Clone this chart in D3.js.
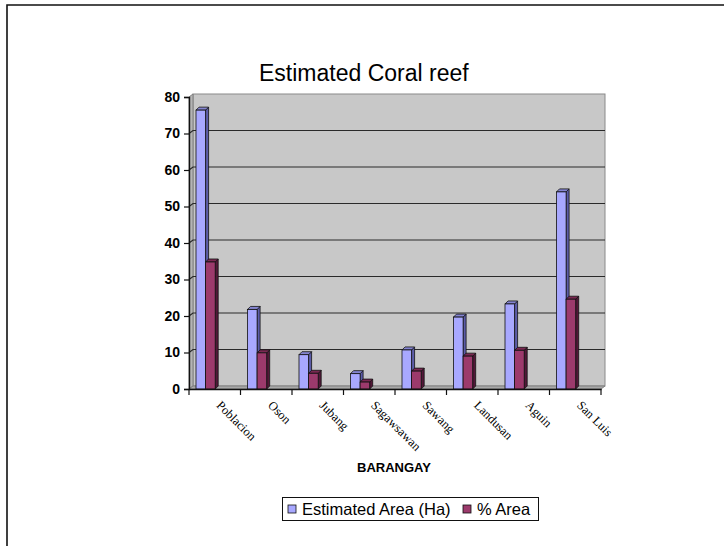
<!DOCTYPE html>
<html>
<head>
<meta charset="utf-8">
<script src="https://cdn.jsdelivr.net/npm/d3@7"></script>
<style>
  html, body { margin: 0; padding: 0; background: #fff; }
  svg { display: block; }
</style>
</head>
<body>
<svg id="chart" width="724" height="546"></svg>
<script>
// Barangay names along the horizontal axis
const barangays = ["Poblacion", "Oson", "Jubang", "Sagawsawan", "Sawang", "Landusan", "Aguin", "San Luis"];
// Estimated coral reef area per barangay, in hectares
const areaHa = [76.4, 21.8, 9.4, 4.2, 10.7, 19.7, 23.3, 54.0];
// Share of the total reef area, in percent
const areaPct = [34.8, 9.9, 4.3, 1.9, 4.9, 9.0, 10.6, 24.6];
// Value axis ticks
const yTicks = [0, 10, 20, 30, 40, 50, 60, 70, 80];
const seriesNames = ["Estimated Area (Ha)", "% Area"];

const svg = d3.select("#chart");

// outer frame (top and left edges only)
svg.append("path")
  .attr("d", "M7,546 V5 H724")
  .attr("fill", "none")
  .attr("stroke", "#111")
  .attr("stroke-width", 1.6);

const plot = { left: 189, right: 601, top: 97, bottom: 389 };
const depth = { dx: 4, dy: 3 };     // wall depth of the 3-D box
const barDepth = { dx: 3, dy: 3 };  // depth of each column

const x = d3.scaleBand().domain(barangays).range([plot.left, plot.right]);
const y = d3.scaleLinear().domain([0, 80]).range([plot.bottom, plot.top]);

// back wall
svg.append("rect")
  .attr("x", plot.left + depth.dx)
  .attr("y", y(80) - depth.dy)
  .attr("width", plot.right - plot.left)
  .attr("height", y(0) - y(80))
  .attr("fill", "#c8c8c8")
  .attr("stroke", "#8a8a8a")
  .attr("stroke-width", 1);

// left side wall
svg.append("path")
  .attr("d", `M${plot.left},${y(0)} L${plot.left + depth.dx},${y(0) - depth.dy} L${plot.left + depth.dx},${y(80) - depth.dy} L${plot.left},${y(80)} Z`)
  .attr("fill", "#b4b4b4")
  .attr("stroke", "#808080")
  .attr("stroke-width", 1);

// floor
svg.append("path")
  .attr("d", `M${plot.left},${y(0)} L${plot.right},${y(0)} L${plot.right + depth.dx},${y(0) - depth.dy} L${plot.left + depth.dx},${y(0) - depth.dy} Z`)
  .attr("fill", "#a8a8a8")
  .attr("stroke", "#808080")
  .attr("stroke-width", 1);

// gridlines on the side wall and back wall
const grid = svg.append("g");
yTicks.filter(t => t > 0 && t < 80).forEach(t => {
  grid.append("path")
    .attr("d", `M${plot.left},${y(t)} L${plot.left + depth.dx},${y(t) - depth.dy} H${plot.right + depth.dx}`)
    .attr("fill", "none")
    .attr("stroke", "#2a2a2a")
    .attr("stroke-width", 1.2);
});

// columns
const colors = [
  { front: "#a8a8ff", top: "#8484d0", side: "#5c5ca8" },
  { front: "#9c3a6c", top: "#7a2852", side: "#521838" }
];
const barW = 9.6;
const barOffset = 7;

function drawColumn(g, x0, v, c) {
  const x1 = x0 + barW, yt = y(v), yb = y(0);
  const dx = barDepth.dx, dy = barDepth.dy;
  g.append("path")
    .attr("d", `M${x1},${yb} L${x1 + dx},${yb - dy} L${x1 + dx},${yt - dy} L${x1},${yt} Z`)
    .attr("fill", c.side).attr("stroke", "#111").attr("stroke-width", 0.8);
  g.append("path")
    .attr("d", `M${x0},${yt} L${x0 + dx},${yt - dy} L${x1 + dx},${yt - dy} L${x1},${yt} Z`)
    .attr("fill", c.top).attr("stroke", "#111").attr("stroke-width", 0.8);
  g.append("rect")
    .attr("x", x0).attr("y", yt).attr("width", barW).attr("height", yb - yt)
    .attr("fill", c.front).attr("stroke", "#111").attr("stroke-width", 0.8);
}

const bars = svg.append("g");
barangays.forEach((b, i) => {
  const bx = x(b) + barOffset;
  drawColumn(bars, bx, areaHa[i], colors[0]);
  drawColumn(bars, bx + barW, areaPct[i], colors[1]);
});

// value axis
const yAxis = svg.append("g")
  .attr("transform", `translate(${plot.left},0)`)
  .call(d3.axisLeft(y).tickValues(yTicks).tickSize(5).tickPadding(4));
yAxis.select(".domain").attr("stroke", "#111").attr("stroke-width", 1.4);
yAxis.selectAll(".tick line").attr("stroke", "#111").attr("stroke-width", 1.2);
yAxis.selectAll(".tick text")
  .attr("font-family", "Liberation Sans, Arial, sans-serif")
  .attr("font-size", 14).attr("font-weight", "bold").attr("fill", "#000");

// category axis
const xAxis = svg.append("g")
  .attr("transform", `translate(0,${plot.bottom})`)
  .call(d3.axisBottom(x).tickSize(0).tickFormat(""));
xAxis.select(".domain").attr("stroke", "#111").attr("stroke-width", 1.4);
const boundaries = barangays.map(b => x(b)).concat([plot.right]);
xAxis.selectAll("line.sep").data(boundaries).enter().append("line")
  .attr("class", "sep")
  .attr("x1", d => d).attr("x2", d => d)
  .attr("y1", 0).attr("y2", 6)
  .attr("stroke", "#111").attr("stroke-width", 1.2);

svg.append("g").selectAll("text").data(barangays).enter().append("text")
  .attr("transform", d => `translate(${x(d) + x.bandwidth() / 2 + 1},${plot.bottom + 17}) rotate(45)`)
  .attr("font-family", "Liberation Serif, Times New Roman, serif")
  .attr("font-size", 12.5)
  .attr("fill", "#000")
  .text(d => d);

// title
svg.append("text")
  .attr("x", 259).attr("y", 81)
  .attr("font-family", "Liberation Sans, Arial, sans-serif")
  .attr("font-size", 23)
  .attr("fill", "#000")
  .text("Estimated Coral reef");

// axis title
svg.append("text")
  .attr("x", 394).attr("y", 472)
  .attr("text-anchor", "middle")
  .attr("font-family", "Liberation Sans, Arial, sans-serif")
  .attr("font-size", 13).attr("font-weight", "bold")
  .attr("fill", "#000")
  .text("BARANGAY");

// legend
const legend = svg.append("g");
legend.append("rect")
  .attr("x", 282.5).attr("y", 497.5).attr("width", 256).attr("height", 23)
  .attr("fill", "#fff").attr("stroke", "#111").attr("stroke-width", 1);
const legendX = [288, 463];
seriesNames.forEach((name, i) => {
  legend.append("rect")
    .attr("x", legendX[i]).attr("y", 505).attr("width", 8).attr("height", 8)
    .attr("fill", colors[i].front).attr("stroke", "#111").attr("stroke-width", 0.8);
  legend.append("text")
    .attr("x", legendX[i] + 14).attr("y", 515)
    .attr("font-family", "Liberation Sans, Arial, sans-serif")
    .attr("font-size", 16.5)
    .attr("fill", "#000")
    .text(name);
});
</script>
</body>
</html>
